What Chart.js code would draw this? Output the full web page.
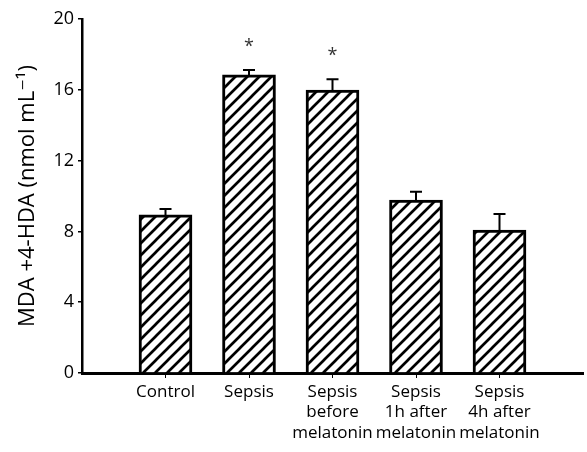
<!DOCTYPE html>
<html>
<head>
<meta charset="utf-8">
<script src="https://cdn.jsdelivr.net/npm/chart.js@4"></script>
<style>
  html, body { margin: 0; padding: 0; background: #fff; }
  #wrap { width: 587px; height: 452px; }
</style>
</head>
<body>
<div id="wrap"><canvas id="c" width="587" height="452"></canvas></div>
<script>
// Groups (empty slots at each end keep the spacing of the axis)
const categories = ['', 'Control', 'Sepsis', ['Sepsis', 'before', 'melatonin'],
  ['Sepsis', '1h after', 'melatonin'], ['Sepsis', '4h after', 'melatonin'], ''];
// Mean MDA + 4-HDA per group (nmol/mL)
const means = [null, 8.93, 16.84, 15.99, 9.77, 8.08, null];
// Standard error (upper whisker only)
const errors = [null, 0.33, 0.28, 0.6, 0.47, 0.9, null];
// Groups significantly different from control
const significant = [false, false, true, true, false, false, false];
const yTicks = [0, 4, 8, 12, 16, 20];

const FONT = "'Open Sans', 'DejaVu Sans', sans-serif";

// Diagonal hatch fill
function makeHatch() {
  const s = 12;
  const c = document.createElement('canvas');
  c.width = s; c.height = s;
  const g = c.getContext('2d');
  g.fillStyle = '#fff';
  g.fillRect(0, 0, s, s);
  g.strokeStyle = '#000';
  g.lineWidth = 2.7;
  g.lineCap = 'square';
  g.beginPath();
  g.moveTo(-2, s + 2); g.lineTo(s + 2, -2);
  g.moveTo(-2, 2); g.lineTo(2, -2);
  g.moveTo(s - 2, s + 2); g.lineTo(s + 2, s - 2);
  g.stroke();
  return g.createPattern(c, 'repeat');
}

// Upper error whiskers and significance stars
const errorBars = {
  id: 'errorBars',
  afterDatasetsDraw(chart) {
    const ctx = chart.ctx;
    const y = chart.scales.y;
    const meta = chart.getDatasetMeta(0);
    ctx.save();
    ctx.strokeStyle = '#000';
    ctx.lineWidth = 2;
    meta.data.forEach((bar, i) => {
      if (means[i] == null) return;
      const top = y.getPixelForValue(means[i] + errors[i]);
      ctx.beginPath();
      ctx.moveTo(bar.x, bar.y);
      ctx.lineTo(bar.x, top);
      ctx.moveTo(bar.x - 6, top);
      ctx.lineTo(bar.x + 6, top);
      ctx.stroke();
      if (significant[i]) {
        ctx.fillStyle = '#333';
        ctx.font = '18px ' + FONT;
        ctx.textAlign = 'center';
        ctx.textBaseline = 'middle';
        ctx.fillText('*', bar.x, top - 23);
      }
    });
    ctx.restore();
  }
};

new Chart(document.getElementById('c'), {
  type: 'bar',
  data: {
    labels: categories,
    datasets: [{
      data: means,
      backgroundColor: makeHatch(),
      borderColor: '#000',
      borderWidth: 3,
      borderSkipped: 'start',
      barThickness: 53
    }]
  },
  options: {
    responsive: false,
    animation: false,
    layout: { padding: { top: 19, right: 0, bottom: 0, left: 0 } },
    plugins: { legend: { display: false }, tooltip: { enabled: false } },
    scales: {
      x: {
        offset: false,
        afterFit(scale) { scale.height = 79; },
        border: { color: '#000', width: 3 },
        grid: {
          offset: false,
          drawOnChartArea: false,
          tickLength: 5,
          tickColor: ctx => (ctx.index === 0 || ctx.index === 6) ? 'rgba(0,0,0,0)' : '#000',
          lineWidth: 1
        },
        ticks: {
          autoSkip: false, maxRotation: 0, minRotation: 0,
          padding: 4, color: '#000',
          font: { family: FONT, size: 17, lineHeight: 1.2 }
        }
      },
      y: {
        min: 0, max: 20,
        afterFit(scale) { scale.width = 82; },
        afterBuildTicks(scale) { scale.ticks = yTicks.map(v => ({ value: v })); },
        border: { color: '#000', width: 2.5 },
        grid: { drawOnChartArea: false, tickLength: 4, color: '#000', lineWidth: 1.5 },
        ticks: {
          padding: 4, color: '#000',
          font: { family: FONT, size: 18 }
        },
        title: {
          display: true,
          text: 'MDA +4-HDA (nmol mL\u207B\u00B9)',
          color: '#000',
          font: { family: FONT, size: 22 },
          padding: { top: 15, bottom: 0 }
        }
      }
    }
  },
  plugins: [errorBars]
});
</script>
</body>
</html>
